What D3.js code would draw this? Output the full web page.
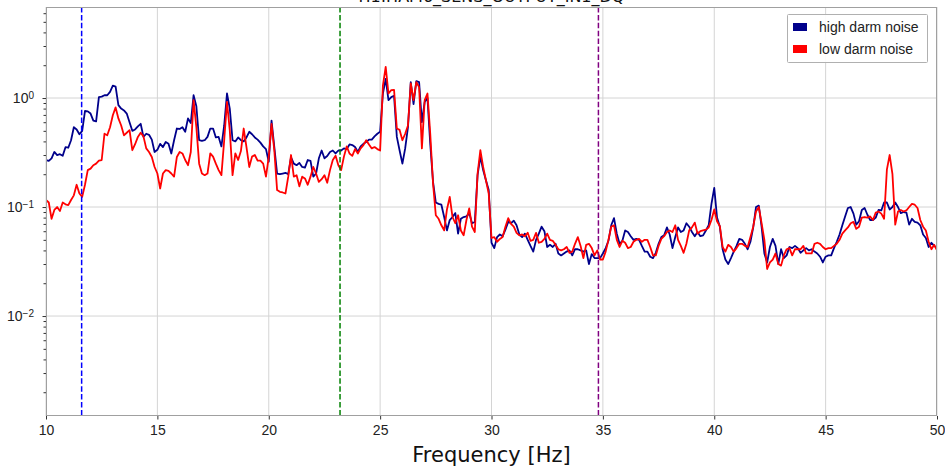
<!DOCTYPE html>
<html>
<head>
<meta charset="utf-8">
<script src="https://cdn.jsdelivr.net/npm/d3@7/dist/d3.min.js"></script>
<style>
  html, body { margin: 0; padding: 0; background: #fff; }
  svg { display: block; }
</style>
</head>
<body>
<svg id="chart" width="945" height="469"></svg>
<script>
// ---------------- data ----------------
const titleText = "H1:HAM6_SENS_OUTPUT_IN1_DQ";
const seriesNames = ["high darm noise", "low darm noise"];
const seriesColors = ["#00008b", "#ff0000"];
const freqStart = 10, freqStep = 0.125, nPoints = 321;
const xTicks = [10, 15, 20, 25, 30, 35, 40, 45, 50];
const yTickExps = [0, -1, -2];
const markerFreqs = [11.6, 23.2, 34.8];
const markerColors = ["#0000ff", "#008000", "#800080"];

const highNoise = [
  0.27, 0.265, 0.28, 0.32, 0.30, 0.305, 0.295, 0.354, 0.35, 0.41,
  0.54, 0.515, 0.465, 0.50, 0.76, 0.755, 0.72, 0.62, 0.61, 1.02,
  1.03, 1.06, 1.06, 1.14, 1.30, 1.27, 0.86, 0.80, 0.77, 0.72,
  0.60, 0.50, 0.515, 0.55, 0.58, 0.44, 0.47, 0.46, 0.415, 0.32,
  0.335, 0.38, 0.355, 0.395, 0.38, 0.31, 0.41, 0.525, 0.52, 0.54,
  0.49, 0.65, 0.59, 1.06, 0.84, 0.41, 0.405, 0.41, 0.44, 0.525,
  0.525, 0.435, 0.44, 0.36, 0.56, 1.10, 0.80, 0.41, 0.40, 0.435,
  0.41, 0.40, 0.435, 0.49, 0.465, 0.435, 0.415, 0.39, 0.36, 0.34,
  0.26, 0.62, 0.355, 0.203, 0.20, 0.203, 0.206, 0.20, 0.285, 0.25,
  0.242, 0.254, 0.233, 0.23, 0.27, 0.265, 0.19, 0.203, 0.28, 0.33,
  0.28, 0.294, 0.32, 0.33, 0.31, 0.33, 0.33, 0.345, 0.34, 0.375,
  0.37, 0.355, 0.32, 0.36, 0.38, 0.395, 0.415, 0.415, 0.445, 0.47,
  0.49, 1.1, 1.5, 0.955, 1.02, 1.05, 0.44, 0.33, 0.25, 0.345,
  0.54, 1.40, 0.88, 1.43, 1.40, 0.60, 0.92, 1.0, 0.38, 0.17,
  0.11, 0.107, 0.105, 0.081, 0.061, 0.076, 0.081, 0.088, 0.057, 0.078,
  0.081, 0.082, 0.088, 0.071, 0.073, 0.196, 0.29, 0.218, 0.176, 0.143,
  0.047, 0.042, 0.053, 0.056, 0.054, 0.062, 0.073, 0.071, 0.075, 0.068,
  0.056, 0.053, 0.057, 0.050, 0.044, 0.039, 0.050, 0.057, 0.066, 0.060,
  0.043, 0.045, 0.043, 0.046, 0.0375, 0.036, 0.0375, 0.039, 0.040, 0.036,
  0.041, 0.041, 0.040, 0.039, 0.040, 0.030, 0.037, 0.034, 0.034, 0.034,
  0.0375, 0.042, 0.049, 0.068, 0.079, 0.057, 0.046, 0.049, 0.061, 0.059,
  0.054, 0.050, 0.051, 0.050, 0.044, 0.039, 0.039, 0.035, 0.034, 0.038,
  0.046, 0.053, 0.055, 0.065, 0.056, 0.042, 0.053, 0.065, 0.059, 0.061,
  0.071, 0.066, 0.059, 0.054, 0.059, 0.054, 0.055, 0.061, 0.068, 0.107,
  0.15, 0.08, 0.066, 0.041, 0.033, 0.030, 0.034, 0.039, 0.044, 0.051,
  0.050, 0.046, 0.041, 0.048, 0.065, 0.10, 0.103, 0.066, 0.0375, 0.031,
  0.043, 0.051, 0.044, 0.030, 0.041, 0.034, 0.036, 0.043, 0.042, 0.044,
  0.042, 0.038, 0.040, 0.042, 0.040, 0.041, 0.039, 0.0375, 0.035, 0.031,
  0.035, 0.036, 0.036, 0.042, 0.048, 0.056, 0.068, 0.082, 0.098, 0.10,
  0.087, 0.069, 0.074, 0.094, 0.098, 0.085, 0.076, 0.076, 0.080, 0.094,
  0.093, 0.11, 0.11, 0.095, 0.10, 0.11, 0.10, 0.088, 0.09, 0.089,
  0.069, 0.078, 0.073, 0.072, 0.068, 0.056, 0.052, 0.043, 0.047, 0.044,
  0.042
];

const lowNoise = [
  0.116, 0.11, 0.078, 0.094, 0.10, 0.092, 0.11, 0.106, 0.104, 0.116,
  0.128, 0.16, 0.133, 0.124, 0.16, 0.218, 0.225, 0.242, 0.25, 0.266,
  0.27, 0.47, 0.455, 0.54, 0.695, 0.82, 0.65, 0.56, 0.455, 0.48,
  0.507, 0.332, 0.377, 0.44, 0.48, 0.445, 0.345, 0.32, 0.288, 0.233,
  0.203, 0.148, 0.203, 0.218, 0.215, 0.203, 0.19, 0.288, 0.32, 0.31,
  0.27, 0.242, 0.32, 0.955, 0.54, 0.25, 0.203, 0.196, 0.203, 0.31,
  0.29, 0.25, 0.218, 0.196, 0.41, 0.92, 0.507, 0.196, 0.31, 0.27,
  0.326, 0.525, 0.355, 0.233, 0.29, 0.30, 0.266, 0.266, 0.25, 0.19,
  0.288, 0.58, 0.33, 0.143, 0.138, 0.136, 0.133, 0.19, 0.30, 0.19,
  0.196, 0.155, 0.19, 0.183, 0.16, 0.19, 0.233, 0.203, 0.17, 0.18,
  0.196, 0.167, 0.218, 0.27, 0.295, 0.242, 0.218, 0.29, 0.36, 0.31,
  0.295, 0.34, 0.31, 0.345, 0.37, 0.41, 0.375, 0.345, 0.355, 0.34,
  0.33, 1.3, 1.93, 1.1, 1.18, 1.19, 0.525, 0.51, 0.41, 0.47,
  0.56, 1.36, 0.955, 1.40, 1.26, 0.345, 0.955, 1.10, 0.47, 0.165,
  0.084, 0.078, 0.068, 0.061, 0.095, 0.124, 0.081, 0.071, 0.084, 0.061,
  0.055, 0.076, 0.097, 0.066, 0.059, 0.203, 0.332, 0.233, 0.176, 0.133,
  0.052, 0.053, 0.048, 0.051, 0.053, 0.066, 0.079, 0.070, 0.066, 0.058,
  0.055, 0.056, 0.054, 0.058, 0.049, 0.050, 0.058, 0.047, 0.048, 0.051,
  0.057, 0.050, 0.049, 0.045, 0.041, 0.040, 0.041, 0.043, 0.038, 0.039,
  0.046, 0.053, 0.044, 0.034, 0.045, 0.046, 0.042, 0.036, 0.040, 0.033,
  0.033, 0.039, 0.050, 0.066, 0.068, 0.050, 0.043, 0.049, 0.047, 0.042,
  0.043, 0.048, 0.050, 0.051, 0.048, 0.050, 0.050, 0.043, 0.036, 0.036,
  0.044, 0.051, 0.054, 0.059, 0.061, 0.059, 0.068, 0.050, 0.044, 0.038,
  0.046, 0.061, 0.065, 0.072, 0.057, 0.060, 0.061, 0.062, 0.065, 0.076,
  0.095, 0.074, 0.067, 0.043, 0.039, 0.045, 0.043, 0.039, 0.042, 0.046,
  0.046, 0.044, 0.043, 0.053, 0.066, 0.091, 0.10, 0.071, 0.050, 0.027,
  0.031, 0.033, 0.0375, 0.030, 0.029, 0.036, 0.041, 0.042, 0.036, 0.041,
  0.041, 0.041, 0.044, 0.0375, 0.0375, 0.0375, 0.046, 0.047, 0.046, 0.043,
  0.041, 0.042, 0.042, 0.044, 0.046, 0.050, 0.057, 0.061, 0.065, 0.071,
  0.073, 0.063, 0.066, 0.080, 0.081, 0.080, 0.082, 0.076, 0.089, 0.091,
  0.087, 0.078, 0.22, 0.30, 0.20, 0.069, 0.091, 0.094, 0.091, 0.093,
  0.10, 0.107, 0.105, 0.098, 0.076, 0.066, 0.061, 0.048, 0.041, 0.045,
  0.040
];

// ---------------- layout ----------------
const W = 945, H = 469;
const M = { left: 46, right: 937, top: 7, bottom: 416 };
const freqs = d3.range(nPoints).map(i => freqStart + i * freqStep);

const x = d3.scaleLinear().domain([10, 50]).range([M.left, M.right]);
const y = d3.scaleLog().domain([Math.pow(10, -2.917), Math.pow(10, 0.835)]).range([M.bottom, M.top]);

const svg = d3.select("#chart");
const font = "'Liberation Sans', Arial, sans-serif";

// clip
svg.append("defs").append("clipPath").attr("id", "clip")
  .append("rect").attr("x", M.left).attr("y", M.top)
  .attr("width", M.right - M.left).attr("height", M.bottom - M.top);

// grid
const grid = svg.append("g").attr("stroke", "#d4d4d4").attr("stroke-width", 1);
xTicks.forEach(t => {
  grid.append("line").attr("x1", x(t)).attr("x2", x(t)).attr("y1", M.top).attr("y2", M.bottom);
});
yTickExps.forEach(e => {
  grid.append("line").attr("x1", M.left).attr("x2", M.right)
    .attr("y1", y(Math.pow(10, e))).attr("y2", y(Math.pow(10, e)));
});

// data lines
const plot = svg.append("g").attr("clip-path", "url(#clip)");
const line = d3.line().x((d, i) => x(freqs[i])).y(d => y(d));
[highNoise, lowNoise].forEach((s, j) => {
  plot.append("path").datum(s).attr("d", line)
    .attr("fill", "none").attr("stroke", seriesColors[j])
    .attr("stroke-width", 1.8).attr("stroke-linejoin", "round");
});

// marker vertical lines
markerFreqs.forEach((f, j) => {
  plot.append("line").attr("x1", x(f)).attr("x2", x(f))
    .attr("y1", M.top).attr("y2", M.bottom)
    .attr("stroke", markerColors[j]).attr("stroke-width", 1.5)
    .attr("stroke-dasharray", "5.5,2.4");
});

// frame
svg.append("rect").attr("x", M.left + 0.5).attr("y", M.top + 0.5)
  .attr("width", M.right - M.left - 1).attr("height", M.bottom - M.top - 1)
  .attr("fill", "none").attr("stroke", "#a0a0a0").attr("stroke-width", 1);

// x axis
const xAxis = d3.axisBottom(x).tickValues(xTicks).tickSize(3.5).tickPadding(6)
  .tickFormat(d3.format("d"));
const gx = svg.append("g").attr("transform", `translate(0,${M.bottom})`).call(xAxis);
gx.select(".domain").remove();
gx.selectAll(".tick line").attr("stroke", "#333");
gx.selectAll(".tick text").attr("font-family", font).attr("font-size", 14).attr("fill", "#222");

// y axis: major/minor ticks via scale
const yMinor = [];
[-3, -2, -1, 0].forEach(e => {
  for (let m = 2; m <= 9; m++) {
    const v = m * Math.pow(10, e);
    if (v >= y.domain()[0] && v <= y.domain()[1]) yMinor.push(v);
  }
});
const yAxisMinor = d3.axisLeft(y).tickValues(yMinor).tickSize(2.5).tickFormat("");
const gym = svg.append("g").attr("transform", `translate(${M.left},0)`).call(yAxisMinor);
gym.select(".domain").remove();
gym.selectAll(".tick line").attr("stroke", "#333");

const yAxisMajor = d3.axisLeft(y).tickValues(yTickExps.map(e => Math.pow(10, e)))
  .tickSize(3.5).tickFormat("");
const gy = svg.append("g").attr("transform", `translate(${M.left},0)`).call(yAxisMajor);
gy.select(".domain").remove();
gy.selectAll(".tick line").attr("stroke", "#333");
gy.selectAll(".tick").each(function(d) {
  const e = Math.round(Math.log10(d));
  const t = d3.select(this).append("text")
    .attr("x", -12).attr("dy", "0.35em")
    .attr("text-anchor", "end")
    .attr("font-family", font).attr("font-size", 14).attr("fill", "#222");
  t.append("tspan").text("10");
  t.append("tspan").attr("dy", "-0.45em").attr("font-size", 10)
    .text(e === 0 ? "0" : "\u2212" + Math.abs(e));
});

// x label
svg.append("text").attr("x", (M.left + M.right) / 2).attr("y", 462)
  .attr("text-anchor", "middle")
  .attr("font-family", "'DejaVu Sans', sans-serif").attr("font-size", 21)
  .attr("fill", "#111").text("Frequency [Hz]");

// title (cut off at top)
svg.append("text").attr("x", (M.left + M.right) / 2).attr("y", 2)
  .attr("text-anchor", "middle")
  .attr("font-family", "'DejaVu Sans', sans-serif").attr("font-size", 16)
  .attr("fill", "#111").text(titleText);

// legend
const lg = svg.append("g");
lg.append("rect").attr("x", 787.5).attr("y", 14.5).attr("width", 140).attr("height", 48)
  .attr("fill", "#fff").attr("fill-opacity", 0.9)
  .attr("stroke", "#b0b0b0").attr("stroke-width", 1).attr("rx", 1);
seriesNames.forEach((n, j) => {
  const yy = 27 + j * 22;
  lg.append("rect").attr("x", 793).attr("y", yy - 4).attr("width", 14).attr("height", 8)
    .attr("fill", seriesColors[j]);
  lg.append("text").attr("x", 819).attr("y", yy + 5)
    .attr("font-family", font).attr("font-size", 14).attr("fill", "#222").text(n);
});
</script>
</body>
</html>
